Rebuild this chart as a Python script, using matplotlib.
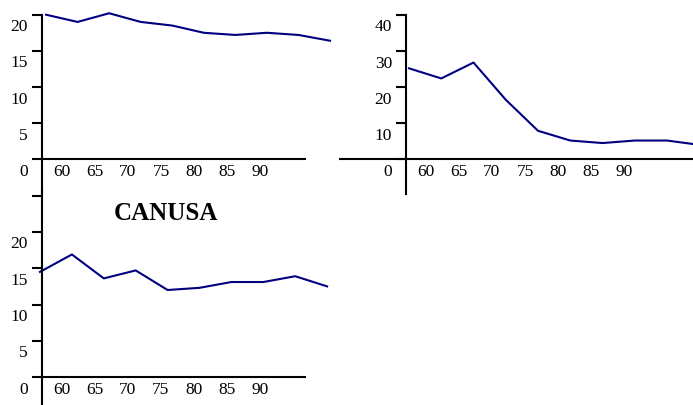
import matplotlib
matplotlib.use("Agg")
import matplotlib.pyplot as plt
import matplotlib.transforms as mtransforms

plt.rcParams['font.family'] = ['Liberation Serif', 'DejaVu Serif']

# data
years = [1960, 1965, 1970, 1975, 1980, 1985, 1990, 1995, 2000, 2005]
year_labels = ["60", "65", "70", "75", "80", "85", "90"]
panel1 = [20.0, 19.0, 20.2, 19.0, 18.5, 17.5, 17.2, 17.5, 17.2, 16.4]
panel2 = [25.2, 22.4, 26.8, 16.5, 7.9, 5.2, 4.5, 5.2, 5.2, 4.0]
panel3 = [14.5, 16.9, 13.6, 14.7, 12.0, 12.3, 13.1, 13.1, 13.9, 12.5]
title3 = "CANUSA"

W, H = 693, 405
fig = plt.figure(figsize=(W / 100, H / 100), dpi=100)
fig.patch.set_facecolor('white')

LINE = '#000080'
FS = 12.5


def px2pt(p):
    return p * 72 / 100


def panel(values, first_px, px_per_year, zero_py, px_per_unit,
          axis_px, y_span, x_span, yticks, ylabels):
    ax = fig.add_axes([0, 0, 1, 1])
    ax.set_facecolor('none')

    def xv(px):
        return years[0] + (px - first_px) / px_per_year

    def yv(py):
        return (zero_py - py) / px_per_unit

    ax.set_xlim(xv(0), xv(W))
    ax.set_ylim(yv(H), yv(0))

    ax.plot(years, values, color=LINE, lw=1.5)

    for s in ['top', 'right']:
        ax.spines[s].set_visible(False)
    ax.spines['left'].set_position(('data', xv(axis_px)))
    ax.spines['left'].set_bounds(yv(y_span[1]), yv(y_span[0]))
    ax.spines['bottom'].set_position(('data', 0))
    ax.spines['bottom'].set_bounds(xv(x_span[0]), xv(x_span[1]))
    for s in ['left', 'bottom']:
        ax.spines[s].set_linewidth(1.5)

    ax.set_xticks([])
    ax.set_yticks(yticks)
    ax.set_yticklabels([])
    ax.tick_params(axis='y', direction='out', length=px2pt(10), width=1.5)

    ax0 = xv(axis_px)
    for v in ylabels:
        tr = mtransforms.offset_copy(ax.transData, fig, x=px2pt(-14),
                                     y=px2pt(-12.5), units='points')
        ax.text(ax0, v, str(v), transform=tr, ha='right', va='center',
                fontsize=FS)
    for k, lab in enumerate(year_labels):
        tr = mtransforms.offset_copy(ax.transData, fig, x=px2pt(20 + 33 * k),
                                     y=px2pt(-12.5), units='points')
        ax.text(ax0, 0, lab, transform=tr, ha='center', va='center',
                fontsize=FS)
    return ax


panel(panel1, 46, 6.311, 159.3, 7.23, 42, (15, 193), (42, 305),
      [0, 5, 10, 15, 20], [0, 5, 10, 15, 20])
panel(panel2, 409, 6.45, 159.3, 3.61, 406, (15, 194), (340, 700),
      [0, 10, 20, 30, 40], [0, 10, 20, 30, 40])
panel(panel3, 40, 6.38, 377, 7.25, 42, (188, 410), (42, 305),
      [0, 5, 10, 15, 20, 25], [0, 5, 10, 15, 20])

fig.text(166 / W, 1 - 213 / H, title3, ha='center', va='center',
         fontsize=18, fontweight='bold')

fig.savefig('out.png', dpi=100)
